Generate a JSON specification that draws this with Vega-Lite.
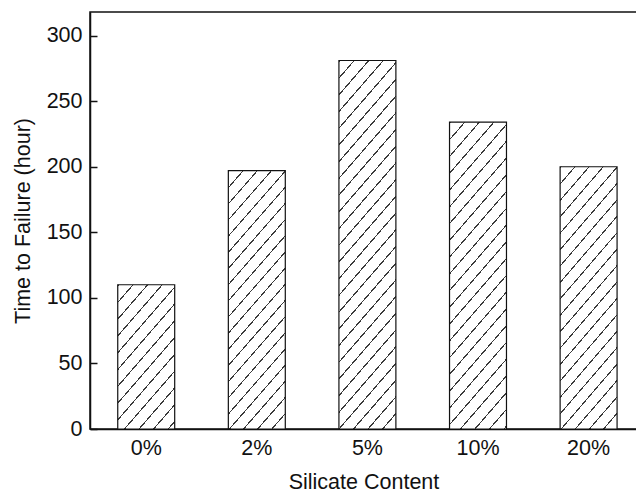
{
  "$schema": "https://vega.github.io/schema/vega-lite/v6.json",
  "width": 547,
  "height": 417,
  "autosize": {"type": "none"},
  "padding": {"left": 90, "top": 12, "right": 0, "bottom": 64},
  "background": "white",
  "config": {
    "view": {"stroke": "#111", "strokeWidth": 1.5},
    "font": "Liberation Sans"
  },
  "data": {
    "values": [
      {"content": "0%", "hours": 110},
      {"content": "2%", "hours": 197},
      {"content": "5%", "hours": 281},
      {"content": "10%", "hours": 234},
      {"content": "20%", "hours": 200}
    ]
  },
  "mark": {"type": "bar", "stroke": "#111", "strokeWidth": 1.2},
  "encoding": {
    "x": {
      "field": "content",
      "type": "nominal",
      "sort": null,
      "scale": {"paddingInner": 0.485, "paddingOuter": 0.2155, "align": 0.582},
      "axis": {
        "title": "Silicate Content",
        "labelAngle": 0,
        "ticks": false,
        "labelPadding": 8,
        "labelFontSize": 21.5,
        "labelColor": "#111",
        "titleFontSize": 21.5,
        "titleFontWeight": "normal",
        "titleColor": "#111",
        "titlePadding": 13,
        "domainColor": "#111",
        "domainWidth": 1.5
      }
    },
    "y": {
      "field": "hours",
      "type": "quantitative",
      "scale": {"domain": [0, 318], "nice": false, "zero": true},
      "axis": {
        "title": "Time to Failure (hour)",
        "values": [0, 50, 100, 150, 200, 250, 300],
        "grid": false,
        "tickSize": -7,
        "tickWidth": 1.5,
        "tickColor": "#111",
        "labelPadding": 15,
        "labelFontSize": 21.5,
        "labelColor": "#111",
        "titleFontSize": 21.5,
        "titleFontWeight": "normal",
        "titleColor": "#111",
        "titlePadding": 12,
        "domainColor": "#111",
        "domainWidth": 1.5
      }
    },
    "fill": {
      "condition": [
        {
          "test": "datum.content === '0%'",
          "value": {
            "gradient": "linear", "x1": 0, "y1": 0, "x2": 0.5485, "y2": 1.2055,
            "stops": [
              {"offset": 0, "color": "#3a3a3a"}, {"offset": 0.008, "color": "#3a3a3a"}, {"offset": 0.008, "color": "#ffffff"}, {"offset": 0.08, "color": "#ffffff"},
              {"offset": 0.08, "color": "#3a3a3a"}, {"offset": 0.088, "color": "#3a3a3a"}, {"offset": 0.088, "color": "#ffffff"}, {"offset": 0.16, "color": "#ffffff"},
              {"offset": 0.16, "color": "#3a3a3a"}, {"offset": 0.168, "color": "#3a3a3a"}, {"offset": 0.168, "color": "#ffffff"}, {"offset": 0.24, "color": "#ffffff"},
              {"offset": 0.24, "color": "#3a3a3a"}, {"offset": 0.248, "color": "#3a3a3a"}, {"offset": 0.248, "color": "#ffffff"}, {"offset": 0.32, "color": "#ffffff"},
              {"offset": 0.32, "color": "#3a3a3a"}, {"offset": 0.328, "color": "#3a3a3a"}, {"offset": 0.328, "color": "#ffffff"}, {"offset": 0.4, "color": "#ffffff"},
              {"offset": 0.4, "color": "#3a3a3a"}, {"offset": 0.408, "color": "#3a3a3a"}, {"offset": 0.408, "color": "#ffffff"}, {"offset": 0.48, "color": "#ffffff"},
              {"offset": 0.48, "color": "#3a3a3a"}, {"offset": 0.488, "color": "#3a3a3a"}, {"offset": 0.488, "color": "#ffffff"}, {"offset": 0.56, "color": "#ffffff"},
              {"offset": 0.56, "color": "#3a3a3a"}, {"offset": 0.568, "color": "#3a3a3a"}, {"offset": 0.568, "color": "#ffffff"}, {"offset": 0.64, "color": "#ffffff"},
              {"offset": 0.64, "color": "#3a3a3a"}, {"offset": 0.648, "color": "#3a3a3a"}, {"offset": 0.648, "color": "#ffffff"}, {"offset": 0.72, "color": "#ffffff"},
              {"offset": 0.72, "color": "#3a3a3a"}, {"offset": 0.728, "color": "#3a3a3a"}, {"offset": 0.728, "color": "#ffffff"}, {"offset": 0.8, "color": "#ffffff"},
              {"offset": 0.8, "color": "#3a3a3a"}, {"offset": 0.808, "color": "#3a3a3a"}, {"offset": 0.808, "color": "#ffffff"}, {"offset": 0.88, "color": "#ffffff"},
              {"offset": 0.88, "color": "#3a3a3a"}, {"offset": 0.888, "color": "#3a3a3a"}, {"offset": 0.888, "color": "#ffffff"}, {"offset": 0.96, "color": "#ffffff"},
              {"offset": 0.96, "color": "#3a3a3a"}, {"offset": 0.968, "color": "#3a3a3a"}, {"offset": 0.968, "color": "#ffffff"}, {"offset": 1, "color": "#ffffff"}
            ]
          }
        },
        {
          "test": "datum.content === '5%'",
          "value": {
            "gradient": "linear", "x1": 0, "y1": 0, "x2": 0.2032, "y2": 1.1418,
            "stops": [
              {"offset": 0, "color": "#3a3a3a"}, {"offset": 0.004, "color": "#3a3a3a"}, {"offset": 0.004, "color": "#ffffff"}, {"offset": 0.0385, "color": "#ffffff"},
              {"offset": 0.0385, "color": "#3a3a3a"}, {"offset": 0.0425, "color": "#3a3a3a"}, {"offset": 0.0425, "color": "#ffffff"}, {"offset": 0.077, "color": "#ffffff"},
              {"offset": 0.077, "color": "#3a3a3a"}, {"offset": 0.081, "color": "#3a3a3a"}, {"offset": 0.081, "color": "#ffffff"}, {"offset": 0.1155, "color": "#ffffff"},
              {"offset": 0.1155, "color": "#3a3a3a"}, {"offset": 0.1195, "color": "#3a3a3a"}, {"offset": 0.1195, "color": "#ffffff"}, {"offset": 0.154, "color": "#ffffff"},
              {"offset": 0.154, "color": "#3a3a3a"}, {"offset": 0.158, "color": "#3a3a3a"}, {"offset": 0.158, "color": "#ffffff"}, {"offset": 0.1925, "color": "#ffffff"},
              {"offset": 0.1925, "color": "#3a3a3a"}, {"offset": 0.1965, "color": "#3a3a3a"}, {"offset": 0.1965, "color": "#ffffff"}, {"offset": 0.231, "color": "#ffffff"},
              {"offset": 0.231, "color": "#3a3a3a"}, {"offset": 0.235, "color": "#3a3a3a"}, {"offset": 0.235, "color": "#ffffff"}, {"offset": 0.2695, "color": "#ffffff"},
              {"offset": 0.2695, "color": "#3a3a3a"}, {"offset": 0.2735, "color": "#3a3a3a"}, {"offset": 0.2735, "color": "#ffffff"}, {"offset": 0.308, "color": "#ffffff"},
              {"offset": 0.308, "color": "#3a3a3a"}, {"offset": 0.312, "color": "#3a3a3a"}, {"offset": 0.312, "color": "#ffffff"}, {"offset": 0.3465, "color": "#ffffff"},
              {"offset": 0.3465, "color": "#3a3a3a"}, {"offset": 0.3505, "color": "#3a3a3a"}, {"offset": 0.3505, "color": "#ffffff"}, {"offset": 0.385, "color": "#ffffff"},
              {"offset": 0.385, "color": "#3a3a3a"}, {"offset": 0.389, "color": "#3a3a3a"}, {"offset": 0.389, "color": "#ffffff"}, {"offset": 0.4235, "color": "#ffffff"},
              {"offset": 0.4235, "color": "#3a3a3a"}, {"offset": 0.4275, "color": "#3a3a3a"}, {"offset": 0.4275, "color": "#ffffff"}, {"offset": 0.462, "color": "#ffffff"},
              {"offset": 0.462, "color": "#3a3a3a"}, {"offset": 0.466, "color": "#3a3a3a"}, {"offset": 0.466, "color": "#ffffff"}, {"offset": 0.5005, "color": "#ffffff"},
              {"offset": 0.5005, "color": "#3a3a3a"}, {"offset": 0.5045, "color": "#3a3a3a"}, {"offset": 0.5045, "color": "#ffffff"}, {"offset": 0.539, "color": "#ffffff"},
              {"offset": 0.539, "color": "#3a3a3a"}, {"offset": 0.543, "color": "#3a3a3a"}, {"offset": 0.543, "color": "#ffffff"}, {"offset": 0.5775, "color": "#ffffff"},
              {"offset": 0.5775, "color": "#3a3a3a"}, {"offset": 0.5815, "color": "#3a3a3a"}, {"offset": 0.5815, "color": "#ffffff"}, {"offset": 0.616, "color": "#ffffff"},
              {"offset": 0.616, "color": "#3a3a3a"}, {"offset": 0.62, "color": "#3a3a3a"}, {"offset": 0.62, "color": "#ffffff"}, {"offset": 0.6545, "color": "#ffffff"},
              {"offset": 0.6545, "color": "#3a3a3a"}, {"offset": 0.6585, "color": "#3a3a3a"}, {"offset": 0.6585, "color": "#ffffff"}, {"offset": 0.693, "color": "#ffffff"},
              {"offset": 0.693, "color": "#3a3a3a"}, {"offset": 0.697, "color": "#3a3a3a"}, {"offset": 0.697, "color": "#ffffff"}, {"offset": 0.7315, "color": "#ffffff"},
              {"offset": 0.7315, "color": "#3a3a3a"}, {"offset": 0.7355, "color": "#3a3a3a"}, {"offset": 0.7355, "color": "#ffffff"}, {"offset": 0.77, "color": "#ffffff"},
              {"offset": 0.77, "color": "#3a3a3a"}, {"offset": 0.774, "color": "#3a3a3a"}, {"offset": 0.774, "color": "#ffffff"}, {"offset": 0.8085, "color": "#ffffff"},
              {"offset": 0.8085, "color": "#3a3a3a"}, {"offset": 0.8125, "color": "#3a3a3a"}, {"offset": 0.8125, "color": "#ffffff"}, {"offset": 0.847, "color": "#ffffff"},
              {"offset": 0.847, "color": "#3a3a3a"}, {"offset": 0.851, "color": "#3a3a3a"}, {"offset": 0.851, "color": "#ffffff"}, {"offset": 0.8855, "color": "#ffffff"},
              {"offset": 0.8855, "color": "#3a3a3a"}, {"offset": 0.8895, "color": "#3a3a3a"}, {"offset": 0.8895, "color": "#ffffff"}, {"offset": 0.924, "color": "#ffffff"},
              {"offset": 0.924, "color": "#3a3a3a"}, {"offset": 0.928, "color": "#3a3a3a"}, {"offset": 0.928, "color": "#ffffff"}, {"offset": 0.9625, "color": "#ffffff"},
              {"offset": 0.9625, "color": "#3a3a3a"}, {"offset": 0.9665, "color": "#3a3a3a"}, {"offset": 0.9665, "color": "#ffffff"}, {"offset": 1, "color": "#ffffff"}
            ]
          }
        },
        {
          "test": "datum.content === '10%'",
          "value": {
            "gradient": "linear", "x1": 0, "y1": 0, "x2": 0.2483, "y2": 1.1608,
            "stops": [
              {"offset": 0, "color": "#3a3a3a"}, {"offset": 0.0045, "color": "#3a3a3a"}, {"offset": 0.0045, "color": "#ffffff"}, {"offset": 0.045, "color": "#ffffff"},
              {"offset": 0.045, "color": "#3a3a3a"}, {"offset": 0.0495, "color": "#3a3a3a"}, {"offset": 0.0495, "color": "#ffffff"}, {"offset": 0.09, "color": "#ffffff"},
              {"offset": 0.09, "color": "#3a3a3a"}, {"offset": 0.0945, "color": "#3a3a3a"}, {"offset": 0.0945, "color": "#ffffff"}, {"offset": 0.135, "color": "#ffffff"},
              {"offset": 0.135, "color": "#3a3a3a"}, {"offset": 0.1395, "color": "#3a3a3a"}, {"offset": 0.1395, "color": "#ffffff"}, {"offset": 0.18, "color": "#ffffff"},
              {"offset": 0.18, "color": "#3a3a3a"}, {"offset": 0.1845, "color": "#3a3a3a"}, {"offset": 0.1845, "color": "#ffffff"}, {"offset": 0.225, "color": "#ffffff"},
              {"offset": 0.225, "color": "#3a3a3a"}, {"offset": 0.2295, "color": "#3a3a3a"}, {"offset": 0.2295, "color": "#ffffff"}, {"offset": 0.27, "color": "#ffffff"},
              {"offset": 0.27, "color": "#3a3a3a"}, {"offset": 0.2745, "color": "#3a3a3a"}, {"offset": 0.2745, "color": "#ffffff"}, {"offset": 0.315, "color": "#ffffff"},
              {"offset": 0.315, "color": "#3a3a3a"}, {"offset": 0.3195, "color": "#3a3a3a"}, {"offset": 0.3195, "color": "#ffffff"}, {"offset": 0.36, "color": "#ffffff"},
              {"offset": 0.36, "color": "#3a3a3a"}, {"offset": 0.3645, "color": "#3a3a3a"}, {"offset": 0.3645, "color": "#ffffff"}, {"offset": 0.405, "color": "#ffffff"},
              {"offset": 0.405, "color": "#3a3a3a"}, {"offset": 0.4095, "color": "#3a3a3a"}, {"offset": 0.4095, "color": "#ffffff"}, {"offset": 0.45, "color": "#ffffff"},
              {"offset": 0.45, "color": "#3a3a3a"}, {"offset": 0.4545, "color": "#3a3a3a"}, {"offset": 0.4545, "color": "#ffffff"}, {"offset": 0.495, "color": "#ffffff"},
              {"offset": 0.495, "color": "#3a3a3a"}, {"offset": 0.4995, "color": "#3a3a3a"}, {"offset": 0.4995, "color": "#ffffff"}, {"offset": 0.54, "color": "#ffffff"},
              {"offset": 0.54, "color": "#3a3a3a"}, {"offset": 0.5445, "color": "#3a3a3a"}, {"offset": 0.5445, "color": "#ffffff"}, {"offset": 0.585, "color": "#ffffff"},
              {"offset": 0.585, "color": "#3a3a3a"}, {"offset": 0.5895, "color": "#3a3a3a"}, {"offset": 0.5895, "color": "#ffffff"}, {"offset": 0.63, "color": "#ffffff"},
              {"offset": 0.63, "color": "#3a3a3a"}, {"offset": 0.6345, "color": "#3a3a3a"}, {"offset": 0.6345, "color": "#ffffff"}, {"offset": 0.675, "color": "#ffffff"},
              {"offset": 0.675, "color": "#3a3a3a"}, {"offset": 0.6795, "color": "#3a3a3a"}, {"offset": 0.6795, "color": "#ffffff"}, {"offset": 0.72, "color": "#ffffff"},
              {"offset": 0.72, "color": "#3a3a3a"}, {"offset": 0.7245, "color": "#3a3a3a"}, {"offset": 0.7245, "color": "#ffffff"}, {"offset": 0.765, "color": "#ffffff"},
              {"offset": 0.765, "color": "#3a3a3a"}, {"offset": 0.7695, "color": "#3a3a3a"}, {"offset": 0.7695, "color": "#ffffff"}, {"offset": 0.81, "color": "#ffffff"},
              {"offset": 0.81, "color": "#3a3a3a"}, {"offset": 0.8145, "color": "#3a3a3a"}, {"offset": 0.8145, "color": "#ffffff"}, {"offset": 0.855, "color": "#ffffff"},
              {"offset": 0.855, "color": "#3a3a3a"}, {"offset": 0.8595, "color": "#3a3a3a"}, {"offset": 0.8595, "color": "#ffffff"}, {"offset": 0.9, "color": "#ffffff"},
              {"offset": 0.9, "color": "#3a3a3a"}, {"offset": 0.9045, "color": "#3a3a3a"}, {"offset": 0.9045, "color": "#ffffff"}, {"offset": 0.945, "color": "#ffffff"},
              {"offset": 0.945, "color": "#3a3a3a"}, {"offset": 0.9495, "color": "#3a3a3a"}, {"offset": 0.9495, "color": "#ffffff"}, {"offset": 0.99, "color": "#ffffff"},
              {"offset": 0.99, "color": "#3a3a3a"}, {"offset": 0.9945, "color": "#3a3a3a"}, {"offset": 0.9945, "color": "#ffffff"}, {"offset": 1, "color": "#ffffff"}
            ]
          }
        }
      ],
      "value": {
        "gradient": "linear", "x1": 0, "y1": 0, "x2": 0.297, "y2": 1.177,
        "stops": [
          {"offset": 0, "color": "#3a3a3a"}, {"offset": 0.005, "color": "#3a3a3a"}, {"offset": 0.005, "color": "#ffffff"}, {"offset": 0.05, "color": "#ffffff"},
          {"offset": 0.05, "color": "#3a3a3a"}, {"offset": 0.055, "color": "#3a3a3a"}, {"offset": 0.055, "color": "#ffffff"}, {"offset": 0.1, "color": "#ffffff"},
          {"offset": 0.1, "color": "#3a3a3a"}, {"offset": 0.105, "color": "#3a3a3a"}, {"offset": 0.105, "color": "#ffffff"}, {"offset": 0.15, "color": "#ffffff"},
          {"offset": 0.15, "color": "#3a3a3a"}, {"offset": 0.155, "color": "#3a3a3a"}, {"offset": 0.155, "color": "#ffffff"}, {"offset": 0.2, "color": "#ffffff"},
          {"offset": 0.2, "color": "#3a3a3a"}, {"offset": 0.205, "color": "#3a3a3a"}, {"offset": 0.205, "color": "#ffffff"}, {"offset": 0.25, "color": "#ffffff"},
          {"offset": 0.25, "color": "#3a3a3a"}, {"offset": 0.255, "color": "#3a3a3a"}, {"offset": 0.255, "color": "#ffffff"}, {"offset": 0.3, "color": "#ffffff"},
          {"offset": 0.3, "color": "#3a3a3a"}, {"offset": 0.305, "color": "#3a3a3a"}, {"offset": 0.305, "color": "#ffffff"}, {"offset": 0.35, "color": "#ffffff"},
          {"offset": 0.35, "color": "#3a3a3a"}, {"offset": 0.355, "color": "#3a3a3a"}, {"offset": 0.355, "color": "#ffffff"}, {"offset": 0.4, "color": "#ffffff"},
          {"offset": 0.4, "color": "#3a3a3a"}, {"offset": 0.405, "color": "#3a3a3a"}, {"offset": 0.405, "color": "#ffffff"}, {"offset": 0.45, "color": "#ffffff"},
          {"offset": 0.45, "color": "#3a3a3a"}, {"offset": 0.455, "color": "#3a3a3a"}, {"offset": 0.455, "color": "#ffffff"}, {"offset": 0.5, "color": "#ffffff"},
          {"offset": 0.5, "color": "#3a3a3a"}, {"offset": 0.505, "color": "#3a3a3a"}, {"offset": 0.505, "color": "#ffffff"}, {"offset": 0.55, "color": "#ffffff"},
          {"offset": 0.55, "color": "#3a3a3a"}, {"offset": 0.555, "color": "#3a3a3a"}, {"offset": 0.555, "color": "#ffffff"}, {"offset": 0.6, "color": "#ffffff"},
          {"offset": 0.6, "color": "#3a3a3a"}, {"offset": 0.605, "color": "#3a3a3a"}, {"offset": 0.605, "color": "#ffffff"}, {"offset": 0.65, "color": "#ffffff"},
          {"offset": 0.65, "color": "#3a3a3a"}, {"offset": 0.655, "color": "#3a3a3a"}, {"offset": 0.655, "color": "#ffffff"}, {"offset": 0.7, "color": "#ffffff"},
          {"offset": 0.7, "color": "#3a3a3a"}, {"offset": 0.705, "color": "#3a3a3a"}, {"offset": 0.705, "color": "#ffffff"}, {"offset": 0.75, "color": "#ffffff"},
          {"offset": 0.75, "color": "#3a3a3a"}, {"offset": 0.755, "color": "#3a3a3a"}, {"offset": 0.755, "color": "#ffffff"}, {"offset": 0.8, "color": "#ffffff"},
          {"offset": 0.8, "color": "#3a3a3a"}, {"offset": 0.805, "color": "#3a3a3a"}, {"offset": 0.805, "color": "#ffffff"}, {"offset": 0.85, "color": "#ffffff"},
          {"offset": 0.85, "color": "#3a3a3a"}, {"offset": 0.855, "color": "#3a3a3a"}, {"offset": 0.855, "color": "#ffffff"}, {"offset": 0.9, "color": "#ffffff"},
          {"offset": 0.9, "color": "#3a3a3a"}, {"offset": 0.905, "color": "#3a3a3a"}, {"offset": 0.905, "color": "#ffffff"}, {"offset": 0.95, "color": "#ffffff"},
          {"offset": 0.95, "color": "#3a3a3a"}, {"offset": 0.955, "color": "#3a3a3a"}, {"offset": 0.955, "color": "#ffffff"}, {"offset": 1, "color": "#ffffff"}
        ]
      }
    }
  }
}
